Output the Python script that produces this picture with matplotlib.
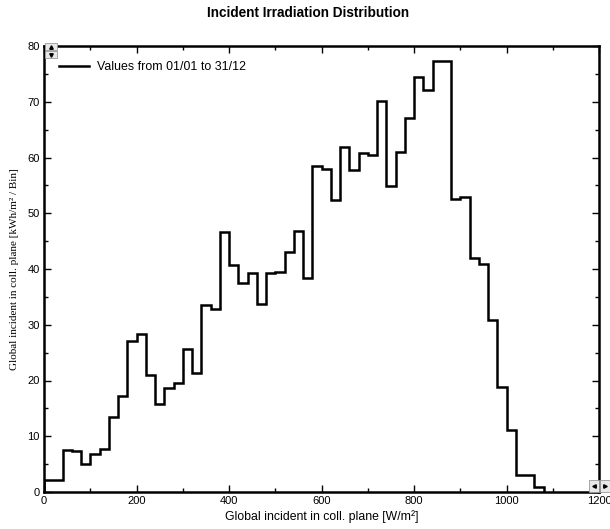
import numpy as np
import matplotlib.pyplot as plt
from matplotlib.patches import Rectangle

# bin edges [W/m2] and energy per bin [kWh/m2 / Bin]
bin_width = 20
bin_start = 0
values = [2.1, 2.1, 7.6, 7.3, 4.95, 6.75, 7.8, 13.4, 17.25, 27.0,
          28.4, 20.9, 15.7, 18.6, 19.5, 25.6, 21.4, 33.6, 32.8, 46.6,
          40.8, 37.4, 39.2, 33.8, 39.2, 39.5, 43.0, 46.9, 38.4, 58.4,
          57.9, 52.3, 61.8, 57.7, 60.8, 60.5, 70.1, 54.8, 61.0, 67.1,
          74.5, 72.1, 77.3, 77.3, 52.5, 52.9, 42.0, 40.9, 30.9, 18.8,
          11.1, 3.1, 3.1, 0.95]
edges = bin_start + bin_width * np.arange(len(values) + 1)

title = "Incident Irradiation Distribution"
xlabel = "Global incident in coll. plane [W/m²]"
ylabel = "Global incident in coll. plane [kWh/m² / Bin]"
legend_label = "Values from 01/01 to 31/12"

plt.rcParams['font.family'] = ['Liberation Sans', 'DejaVu Sans']

fig = plt.figure(figsize=(6.10, 5.29), dpi=100)
ax = fig.add_axes([44/610, 1 - 492/529, 555/610, 446/529])

ax.stairs(values, edges, baseline=0, color='black', linewidth=1.8,
          label=legend_label)

ax.set_xlim(0, 1200)
ax.set_ylim(0, 80)
ax.set_xticks(np.arange(0, 1201, 200))
ax.set_xticks(np.arange(0, 1201, 100), minor=True)
ax.set_yticks(np.arange(0, 81, 10))
ax.set_yticks(np.arange(0, 81, 5), minor=True)
ax.tick_params(which='both', direction='in', top=True, right=True,
               labelsize=8, width=1, pad=3)
ax.tick_params(which='major', length=5)
ax.tick_params(which='minor', length=3)
for s in ax.spines.values():
    s.set_linewidth(1.8)

ax.set_xlabel(xlabel, fontsize=8.8, labelpad=3)
ax.set_ylabel(ylabel, fontsize=8, family=['Liberation Serif', 'DejaVu Serif'],
              labelpad=6)
fig.text(0.505, 1 - 13/529, title, fontsize=9.8, fontweight='bold',
         ha='center', va='center')

ax.legend(loc='upper left', frameon=False, fontsize=8.9, handlelength=2.4,
          handletextpad=0.65, borderaxespad=0.3, bbox_to_anchor=(0.012, 0.985))

# little scroll buttons of the original viewer
def button(x, y, marker):
    fig.patches.append(Rectangle((x/610, 1 - (y + 7)/529), 12/610, 7/529,
                                 transform=fig.transFigure, facecolor='#e8e8e8',
                                 edgecolor='#999999', linewidth=0.6))
    fig.lines.append(plt.Line2D([(x + 6)/610], [1 - (y + 3.5)/529],
                                transform=fig.transFigure, marker=marker,
                                markersize=2.5, color='black', linestyle=''))

button(45, 43, '^')
button(45, 51, 'v')
for x, m in [(589, '<'), (600, '>')]:
    fig.patches.append(Rectangle((x/610, 1 - 492/529), 10/610, 12/529,
                                 transform=fig.transFigure, facecolor='#e8e8e8',
                                 edgecolor='#999999', linewidth=0.6))
    fig.lines.append(plt.Line2D([(x + 5)/610], [1 - 486/529],
                                transform=fig.transFigure, marker=m,
                                markersize=2.5, color='black', linestyle=''))

fig.savefig('out.png', dpi=100)
